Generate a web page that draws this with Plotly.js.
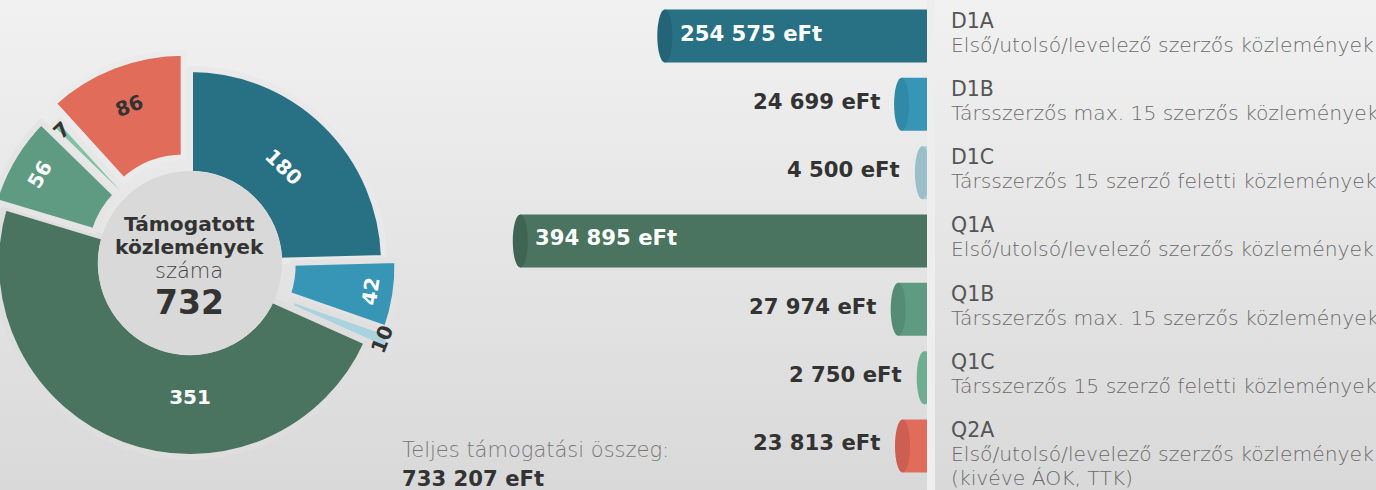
<!DOCTYPE html>
<html>
<head>
<meta charset="utf-8">
<script src="https://cdn.plot.ly/plotly-3.0.1.min.js"></script>
<style>
html, body { margin:0; padding:0; width:1376px; height:490px; overflow:hidden;
  background: linear-gradient(to bottom, #f1f1f1 0%, #d9d9d9 100%); }
#chart { position:absolute; left:-40px; top:0; width:1460px; height:490px; }
</style>
</head>
<body>
<div id="chart"></div>
<script>
// ---------- data ----------
const codes = ['D1A', 'D1B', 'D1C', 'Q1A', 'Q1B', 'Q1C', 'Q2A'];
const descriptions = [
  ['Első/utolsó/levelező szerzős közlemények'],
  ['Társszerzős max. 15 szerzős közlemények'],
  ['Társszerzős 15 szerző feletti közlemények'],
  ['Első/utolsó/levelező szerzős közlemények'],
  ['Társszerzős max. 15 szerzős közlemények'],
  ['Társszerzős 15 szerző feletti közlemények'],
  ['Első/utolsó/levelező szerzős közlemények', '(kivéve ÁOK, TTK)']
];
const publications = [180, 42, 10, 351, 56, 7, 86];
const fundingEFt = [254575, 24699, 4500, 394895, 27974, 2750, 23813];
const totalPublications = 732;
const totalFundingEFt = 733207;
const centerTitle = ['Támogatott', 'közlemények', 'száma'];
const totalLabel = 'Teljes támogatási összeg:';

// ---------- styles ----------
const colors    = ['#287083', '#3795b5', '#a9d3de', '#4a7360', '#5f9b82', '#80c2a6', '#e16c5a'];
const capColors = ['#236577', '#3089a7', '#9bbfc8', '#3f6453', '#548d75', '#70ae94', '#cc5f51'];
const pieTextColors = ['#ffffff', '#ffffff', '#333333', '#ffffff', '#ffffff', '#333333', '#333333'];
const pieBorder = ['#e9e9e9', '#e3e3e3', '#e0e0e0', '#dedede', '#e5e5e5', '#e7e7e7', '#ebebeb'];
const pulls = [0, 0.07, 0.1, 0, 0.06, 0, 0.09];

const FONT = '"DejaVu Sans", "Open Sans", sans-serif';
const W = 1460, H = 490, SHIFT = 40;
const px = x => (x + SHIFT) / W;   // page x -> paper fraction
const py = y => (H - y) / H;       // page y -> paper fraction
const fmt = n => String(n).replace(/\B(?=(\d{3})+(?!\d))/g, ' ');

// pie geometry (page px)
const PCX = 190, PCY = 263, PR = 194, maxPull = Math.max(...pulls);
const half = PR * (1 + maxPull);
const HOLE = 0.46;

// bar geometry (page px)
const BAR_BASE = 927, PX_PER_EFT = 0.00103, XMAX = 450000;
const ROW_TOP = 36, ROW_STEP = 68.33;

const pie = {
  type: 'pie', labels: codes, values: publications, sort: false,
  direction: 'clockwise', rotation: 0, hole: HOLE, pull: pulls,
  marker: { colors: colors, line: { color: pieBorder, width: 6 } },
  text: publications.map(String), textinfo: 'text', textposition: 'inside',
  insidetextorientation: 'tangential',
  textfont: { family: FONT, size: 20, color: pieTextColors, weight: 700 },
  domain: { x: [px(PCX - half), px(PCX + half)], y: [py(PCY + half), py(PCY - half)] },
  showlegend: false, hoverinfo: 'label+value'
};

const bars = {
  type: 'bar', orientation: 'h', x: fundingEFt, y: codes,
  xaxis: 'x', yaxis: 'y', width: 0.776,
  marker: { color: colors, line: { width: 0 } },
  showlegend: false, hoverinfo: 'y+x'
};

const shapes = [];
shapes.push({ type: 'rect', xref: 'paper', yref: 'paper', x0: px(927), x1: px(935), y0: 0, y1: 1,
  fillcolor: '#eeeeee', line: { width: 0 }, layer: 'below' });
shapes.push({ type: 'circle', xref: 'paper', yref: 'paper',
  x0: px(PCX - 92), x1: px(PCX + 92), y0: py(PCY + 92), y1: py(PCY - 92),
  fillcolor: '#d9d9d9', line: { width: 0 }, layer: 'above' });
fundingEFt.forEach((v, i) => {
  shapes.push({ type: 'circle', xref: 'x', yref: 'y', xsizemode: 'pixel', ysizemode: 'pixel',
    xanchor: v, yanchor: codes[i], x0: -7.5, x1: 7.5, y0: -26.5, y1: 26.5,
    fillcolor: capColors[i], line: { width: 0 }, layer: 'above' });
});

const ann = [];
const C = { xanchor: 'center', yanchor: 'middle' };
ann.push(Object.assign({ text: '<b>' + centerTitle[0] + '</b>', x: px(189), y: py(223.5), font: { family: FONT, size: 20.2, color: '#333333' } }, C));
ann.push(Object.assign({ text: '<b>' + centerTitle[1] + '</b>', x: px(189), y: py(247.2), font: { family: FONT, size: 20.2, color: '#333333' } }, C));
ann.push(Object.assign({ text: centerTitle[2], x: px(189), y: py(271), font: { family: FONT, size: 21, color: '#444444', weight: 200 } }, C));
ann.push(Object.assign({ text: '<b>' + totalPublications + '</b>', x: px(189), y: py(302), font: { family: FONT, size: 33, color: '#333333' } }, C));
ann.push({ text: totalLabel, x: px(400), y: py(450), xanchor: 'left', yanchor: 'middle', font: { family: FONT, size: 21, color: '#777777', weight: 200 } });
ann.push({ text: '<b>' + fmt(totalFundingEFt) + ' eFt</b>', x: px(400), y: py(478), xanchor: 'left', yanchor: 'middle', font: { family: FONT, size: 21.2, color: '#333333' } });
fundingEFt.forEach((v, i) => {
  const inside = v > 100000;
  ann.push({ xref: 'x', yref: 'y', x: v, y: codes[i], text: '<b>' + fmt(v) + ' eFt</b>',
    xanchor: inside ? 'left' : 'right', yanchor: 'middle', xshift: inside ? 13 : -20, yshift: 3,
    font: { family: FONT, size: 21.2, color: inside ? '#ffffff' : '#333333' } });
});
codes.forEach((c, i) => {
  ann.push({ xref: 'paper', yref: 'y', x: px(949), y: c, text: c, xanchor: 'left', yanchor: 'middle', yshift: 15.5,
    font: { family: FONT, size: 20.5, color: '#555555' } });
  descriptions[i].forEach((line, k) => {
    ann.push({ xref: 'paper', yref: 'y', x: px(949), y: c, text: line, xanchor: 'left', yanchor: 'middle',
      yshift: -8.5 - 24 * k, font: { family: FONT, size: 20.3, color: '#6a6a6a', weight: 200 } });
  });
});
ann.forEach(a => { a.showarrow = false; if (!a.xref) a.xref = 'paper'; if (!a.yref) a.yref = 'paper'; });

const layout = {
  width: W, height: H, margin: { l: 0, r: 0, t: 0, b: 0 },
  paper_bgcolor: 'rgba(0,0,0,0)', plot_bgcolor: 'rgba(0,0,0,0)',
  xaxis: { domain: [px(BAR_BASE - XMAX * PX_PER_EFT), px(BAR_BASE)], range: [XMAX, 0], visible: false, fixedrange: true },
  yaxis: { type: 'category', categoryorder: 'array', categoryarray: codes, range: [6.5, -0.5],
    domain: [py(ROW_TOP + 6.5 * ROW_STEP), py(ROW_TOP - 0.5 * ROW_STEP)], visible: false, fixedrange: true },
  uniformtext: { mode: 'show', minsize: 20 },
  shapes: shapes, annotations: ann, showlegend: false,
  font: { family: FONT }
};

Plotly.newPlot('chart', [pie, bars], layout, { displayModeBar: false, staticPlot: true });
</script>
</body>
</html>
